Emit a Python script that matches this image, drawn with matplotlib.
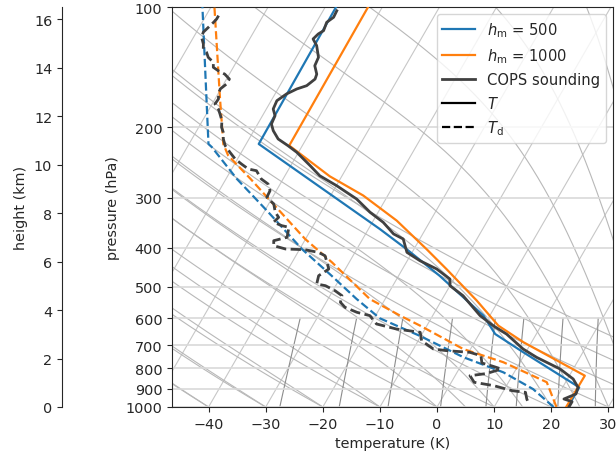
import numpy as np
import matplotlib
matplotlib.use("Agg")
import matplotlib.pyplot as plt
from matplotlib.transforms import Affine2D
from matplotlib.lines import Line2D
from matplotlib.ticker import FixedLocator, NullLocator, FixedFormatter

# ---- model profiles (pressure in hPa, temperature in degC) ----
p_500_T = np.array([1000, 893, 729, 657, 591, 470, 403, 359, 220, 100])
t_500_T = np.array([22.9, 22.9, 9.5, 2.8, -1.1, -12.8, -21.3, -28.0, -57.8, -58.1])
p_500_Td = np.array([1000, 902, 819, 751, 664, 600, 537, 470, 403, 326, 269, 224, 220, 100])
t_500_Td = np.array([20.4, 15.0, 8.1, -0.4, -10.2, -19.0, -25.0, -31.7, -39.6, -49.2, -58.1, -65.7, -66.6, -81.5])

p_1000_T = np.array([1000, 835, 689, 626, 542, 452, 403, 342, 296, 265, 222, 100])
t_1000_T = np.array([22.6, 22.7, 8.6, 2.5, -3.8, -12.3, -17.8, -25.9, -34.3, -42.1, -52.3, -52.5])
p_1000_Td = np.array([1000, 867, 773, 716, 626, 591, 537, 435, 380, 308, 269, 235, 220, 170, 100])
t_1000_Td = np.array([20.9, 16.7, 7.1, -1.3, -11.2, -15.7, -22.7, -33.0, -40.1, -49.6, -55.7, -62.0, -64.0, -69.1, -79.4])

# ---- COPS sounding ----
p_obs_T = np.array([102.2, 106.1, 109.2, 114.6, 116.8, 120.2, 124.9, 133.6, 140.2, 147.2,
                    151.4, 157.3, 160.3, 165.0, 171.5, 179.9, 187.0, 196.1, 203.8, 213.8,
                    222.2, 230.8, 249.3, 264.2, 279.9, 302.0, 326.0, 345.3, 369.3, 380.2,
                    410.6, 430.7, 451.9, 478.6, 497.4, 526.9, 591.0, 626.1, 657.2, 716.1,
                    751.3, 803.5, 851.1, 893.2, 927.8, 955.0, 969.9, 998.0])
t_obs_T = np.array([-57.6, -57.5, -58.2, -57.9, -58.5, -58.9, -57.6, -56.1, -55.9, -54.7,
                    -54.5, -55.3, -56.7, -58.0, -59.0, -58.8, -57.8, -57.6, -56.6, -54.9,
                    -52.5, -50.3, -46.6, -43.9, -39.9, -35.1, -31.4, -28.1, -25.1, -22.9,
                    -20.9, -17.8, -14.0, -10.7, -10.0, -6.7, -1.7, 1.6, 4.8, 9.2,
                    12.4, 17.7, 21.0, 22.7, 23.0, 21.4, 23.1, 23.1])
p_obs_Td = np.array([105.1, 107.2, 109.2, 112.4, 115.6, 119.0, 123.7, 127.4, 129.8, 133.6,
                     137.5, 141.5, 144.3, 147.2, 151.4, 155.8, 160.3, 165.0, 169.8, 174.8,
                     179.9, 185.2, 192.4, 199.8, 205.6, 213.8, 222.2, 230.8, 239.9, 246.9,
                     254.1, 256.6, 269.2, 277.1, 287.9, 299.0, 310.8, 326.0, 335.6, 345.3,
                     352.1, 355.4, 376.5, 383.9, 395.1, 402.7, 404.4, 410.6, 418.6, 434.7,
                     451.9, 469.6, 492.6, 497.4, 512.1, 526.9, 547.3, 563.3, 579.8, 591.0,
                     620.0, 638.3, 650.5, 682.9, 716.1, 723.1, 729.9, 744.4, 776.2, 789.9,
                     803.5, 824.7, 835.2, 867.4, 884.6, 910.4, 919.0, 955.0, 977.2])
t_obs_Td = np.array([-77.8, -77.8, -78.0, -78.4, -78.8, -78.6, -77.6, -77.1, -76.2, -75.4,
                     -74.0, -73.5, -72.3, -70.8, -69.5, -69.5, -70.1, -69.9, -69.4, -69.5,
                     -68.4, -67.6, -66.6, -66.0, -65.2, -64.5, -63.5, -62.0, -60.4, -58.8,
                     -57.1, -55.5, -53.8, -52.1, -51.1, -51.0, -49.1, -48.0, -46.9, -47.3,
                     -45.5, -44.1, -43.4, -45.4, -44.9, -42.5, -39.0, -36.4, -34.9, -33.9,
                     -32.9, -34.0, -33.5, -31.8, -29.6, -27.9, -27.5, -26.2, -23.6, -21.0,
                     -19.0, -15.0, -10.5, -9.4, -6.5, -4.0, 0.2, 2.5, 3.4, 5.5,
                     7.4, 5.3, 2.6, 4.0, 7.8, 11.5, 14.0, 14.9, 15.6])

# background lines
dry_t0 = np.arange(-40, 70, 10)
moist_t0 = np.concatenate([np.arange(-40, 0, 10), np.arange(0, 55, 5)])
mix_ratios = np.array([0.4, 1, 2, 4, 7, 10, 16, 24, 32]) / 1000.
isotherms = np.arange(-130, 40, 10)
p_ticks = [100, 200, 300, 400, 500, 600, 700, 800, 900, 1000]
x_ticks = np.arange(-40, 31, 10)
h_ticks = np.arange(0, 17, 2)

rd, cp, lv, eps = 287.04, 1005.7, 2.501e6, 0.622


def sat_vp(tc):
    return 6.112 * np.exp(17.67 * tc / (tc + 243.5))


def dewpoint(e):
    a = np.log(e / 6.112)
    return 243.5 * a / (17.67 - a)


def moist_lapse(t0, p):
    def f(pp, T):
        es = sat_vp(T - 273.15)
        rs = eps * es / (pp - es)
        return (rd * T + lv * rs) / (pp * (cp + lv ** 2 * rs * eps / (rd * T ** 2)))
    T = np.empty_like(p)
    T[0] = t0 + 273.15
    for i in range(len(p) - 1):
        h = p[i + 1] - p[i]
        k1 = f(p[i], T[i])
        k2 = f(p[i] + h / 2, T[i] + h / 2 * k1)
        k3 = f(p[i] + h / 2, T[i] + h / 2 * k2)
        k4 = f(p[i] + h, T[i] + h * k3)
        T[i + 1] = T[i] + h / 6 * (k1 + 2 * k2 + 2 * k3 + k4)
    return T - 273.15


plt.rcParams['font.size'] = 10.4
plt.rcParams['text.color'] = '0.15'
plt.rcParams['axes.labelcolor'] = '0.15'
plt.rcParams['xtick.color'] = '0.15'
plt.rcParams['ytick.color'] = '0.15'
plt.rcParams['axes.edgecolor'] = '0.15'

fig = plt.figure(figsize=(6.16, 4.56), dpi=100)
W, H = 441., 400.
ax = fig.add_axes([172 / 616, 48 / 456, W / 616, H / 456])
ax.set_yscale('log')
ax.set_ylim(1000, 100)
ax.set_xlim(-46.4, 30.8)
ax.autoscale(False)

# shear in axes coordinates -> isotherms lean 30 deg on screen
shear = Affine2D().skew(np.arctan(np.tan(np.radians(30)) * H / W), 0)
skew = ax.transScale + ax.transLimits + shear + ax.transAxes

pp = np.logspace(3, 2, 200)
for t in isotherms:
    ax.plot([t, t], [1000, 100], transform=skew, color='0.78', lw=0.8, zorder=1)
for t in dry_t0:
    tt = (t + 273.15) * (pp / 1000.) ** (rd / cp) - 273.15
    ax.plot(tt, pp, transform=skew, color='0.72', lw=0.8, zorder=1)
for t in moist_t0:
    ax.plot(moist_lapse(t, pp), pp, transform=skew, color='0.72', lw=0.8, zorder=1)
pm = np.linspace(1000, 600, 50)
for w in mix_ratios:
    e = w * pm / (eps + w)
    ax.plot(dewpoint(e), pm, transform=skew, color='0.55', lw=0.8, zorder=1)

ax.yaxis.grid(True, color='0.85', lw=1.2, zorder=0)

c1, c2, cs = '#1f77b4', '#ff7f0e', '0.25'
ax.plot(t_500_T, p_500_T, transform=skew, color=c1, lw=1.6, zorder=3)
ax.plot(t_500_Td, p_500_Td, transform=skew, color=c1, lw=1.6, ls='--', zorder=3)
ax.plot(t_1000_T, p_1000_T, transform=skew, color=c2, lw=1.6, zorder=3)
ax.plot(t_1000_Td, p_1000_Td, transform=skew, color=c2, lw=1.6, ls='--', zorder=3)
ax.plot(t_obs_T, p_obs_T, transform=skew, color=cs, lw=2, zorder=4)
ax.plot(t_obs_Td, p_obs_Td, transform=skew, color=cs, lw=2, ls='--', zorder=4)

ax.yaxis.set_major_locator(FixedLocator(p_ticks))
ax.yaxis.set_major_formatter(FixedFormatter([str(p) for p in p_ticks]))
ax.yaxis.set_minor_locator(NullLocator())
ax.set_xticks(x_ticks)
ax.set_xlabel('temperature (K)')
ax.set_ylabel('pressure (hPa)')

handles = [Line2D([], [], color=c1, lw=1.6, label=r'$h_\mathrm{m}$ = 500'),
           Line2D([], [], color=c2, lw=1.6, label=r'$h_\mathrm{m}$ = 1000'),
           Line2D([], [], color=cs, lw=2, label='COPS sounding'),
           Line2D([], [], color='k', lw=1.6, label=r'$T$'),
           Line2D([], [], color='k', lw=1.6, ls='--', label=r'$T_\mathrm{d}$')]
ax.legend(handles=handles, loc='upper right', fontsize=10.6, handlelength=2.2)

hax = fig.add_axes([62 / 616, 48 / 456, 0.001, H / 456])
hax.patch.set_visible(False)
for s in ['right', 'top', 'bottom']:
    hax.spines[s].set_visible(False)
hax.set_xticks([])
hax.set_ylim(0, 16.5)
hax.set_yticks(h_ticks)
hax.set_ylabel('height (km)')

fig.savefig('out.png', dpi=100)
